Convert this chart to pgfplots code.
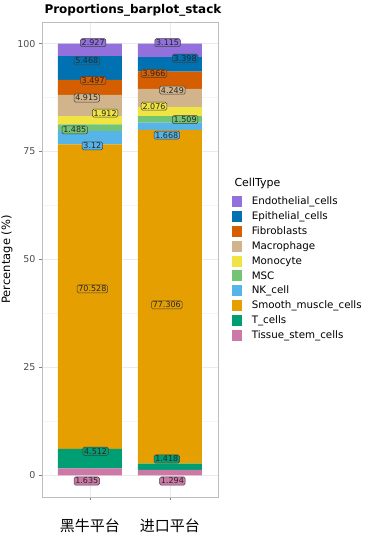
\documentclass[border=0pt]{standalone}
\usepackage{fontspec}
\setmainfont{DejaVu Sans}
\newfontfamily\cjk{Noto Sans CJK SC}
\usepackage{pgfplots}
\pgfplotsset{compat=1.18}
\definecolor{cEndo}{HTML}{9370DB}
\definecolor{cEpi}{HTML}{0072B2}
\definecolor{cFib}{HTML}{D55E00}
\definecolor{cMac}{HTML}{D2B48C}
\definecolor{cMono}{HTML}{F0E442}
\definecolor{cMSC}{HTML}{74C476}
\definecolor{cNK}{HTML}{56B4E9}
\definecolor{cSM}{HTML}{E69F00}
\definecolor{cT}{HTML}{009E73}
\definecolor{cTS}{HTML}{CC79A7}
\definecolor{gridmaj}{HTML}{EBEBEB}
\definecolor{gridmin}{HTML}{F5F5F5}
\definecolor{frame}{HTML}{BDBDBD}
\begin{document}
\begin{tikzpicture}[x=1pt,y=1pt]
\useasboundingbox (0,0) rectangle (375,544);
\pgfplotsset{
  base/.style={
    at={(42pt,47pt)}, anchor=south west,
    scale only axis, width=176pt, height=475pt,
    xmin=0.4, xmax=2.6, ymin=-5, ymax=105,
  },
  lab/.style={nodes near coords, only marks, mark=none,
    point meta=explicit symbolic,
    nodes near coords align={center},
    every node near coord/.append style={anchor=center, fill=#1, draw=black!75, line width=0.5pt,
      rounded corners=1.5pt, inner xsep=1.3pt, inner ysep=1pt, font=\fontsize{8}{8}\selectfont, text=black!85}},
}
\begin{axis}[base,
  ybar stacked, bar width=0.8,
  axis background/.style={fill=white},
  axis line style={frame, line width=0.6pt},
  xtick={1,2}, xticklabels={{\cjk 黑牛平台},{\cjk 进口平台}},
  xticklabel style={font=\fontsize{15}{15}\selectfont, yshift=-15pt},
  ytick={0,25,50,75,100},
  minor ytick={12.5,37.5,62.5,87.5},
  yticklabel style={font=\fontsize{9.5}{10}\selectfont, text=black!70},
  /pgf/number format/assume math mode=true,
  tick style={black!50, line width=0.5pt},
  major tick length=3pt, minor tick length=0pt,
  tick align=outside, xtick pos=bottom, ytick pos=left,
  grid=both,
  major grid style={gridmaj, line width=0.6pt},
  minor grid style={gridmin, line width=0.4pt},
  ylabel={Percentage (\%)},
  ylabel style={font=\fontsize{11.5}{12}\selectfont, yshift=-2pt},
  title={\bfseries Proportions\_barplot\_stack},
  title style={font=\fontsize{12}{12}\selectfont, at={(0,1)}, anchor=south west, xshift=-1pt, yshift=-4pt},
  reverse legend,
  legend style={at={(1.08,0.635)}, anchor=north west, draw=none, fill=none,
    font=\fontsize{10.3}{11}\selectfont, row sep=2.6pt, inner sep=0pt,
    nodes={inner sep=1.5pt}},
  legend cell align=left,
]
\addplot[fill=cTS, draw=none, legend image code/.code={\fill[cTS] (0pt,-5.5pt) rectangle (10pt,5.5pt);}] coordinates {(1,1.635) (2,1.294)};
\addlegendentry{\hspace{8pt}Tissue\_stem\_cells}
\addplot[fill=cT, draw=none, legend image code/.code={\fill[cT] (0pt,-5.5pt) rectangle (10pt,5.5pt);}] coordinates {(1,4.512) (2,1.418)};
\addlegendentry{\hspace{8pt}T\_cells}
\addplot[fill=cSM, draw=none, legend image code/.code={\fill[cSM] (0pt,-5.5pt) rectangle (10pt,5.5pt);}] coordinates {(1,70.528) (2,77.306)};
\addlegendentry{\hspace{8pt}Smooth\_muscle\_cells}
\addplot[fill=cNK, draw=none, legend image code/.code={\fill[cNK] (0pt,-5.5pt) rectangle (10pt,5.5pt);}] coordinates {(1,3.12) (2,1.668)};
\addlegendentry{\hspace{8pt}NK\_cell}
\addplot[fill=cMSC, draw=none, legend image code/.code={\fill[cMSC] (0pt,-5.5pt) rectangle (10pt,5.5pt);}] coordinates {(1,1.485) (2,1.509)};
\addlegendentry{\hspace{8pt}MSC}
\addplot[fill=cMono, draw=none, legend image code/.code={\fill[cMono] (0pt,-5.5pt) rectangle (10pt,5.5pt);}] coordinates {(1,1.912) (2,2.076)};
\addlegendentry{\hspace{8pt}Monocyte}
\addplot[fill=cMac, draw=none, legend image code/.code={\fill[cMac] (0pt,-5.5pt) rectangle (10pt,5.5pt);}] coordinates {(1,4.915) (2,4.249)};
\addlegendentry{\hspace{8pt}Macrophage}
\addplot[fill=cFib, draw=none, legend image code/.code={\fill[cFib] (0pt,-5.5pt) rectangle (10pt,5.5pt);}] coordinates {(1,3.497) (2,3.966)};
\addlegendentry{\hspace{8pt}Fibroblasts}
\addplot[fill=cEpi, draw=none, legend image code/.code={\fill[cEpi] (0pt,-5.5pt) rectangle (10pt,5.5pt);}] coordinates {(1,5.468) (2,3.398)};
\addlegendentry{\hspace{8pt}Epithelial\_cells}
\addplot[fill=cEndo, draw=none, legend image code/.code={\fill[cEndo] (0pt,-5.5pt) rectangle (10pt,5.5pt);}] coordinates {(1,2.927) (2,3.115)};
\addlegendentry{\hspace{8pt}Endothelial\_cells}
\end{axis}
\begin{axis}[base, axis lines=none, xtick=\empty, ytick=\empty, clip=false]
\addplot[lab=cTS] table[meta=l] {x y l
0.96 -1.3 1.635
2.03 -1.3 1.294
};
\addplot[lab=cT] table[meta=l] {x y l
1.07 5.6 4.512
1.96 3.8 1.418
};
\addplot[lab=cSM] table[meta=l] {x y l
1.03 43.2 70.528
1.96 39.5 77.306
};
\addplot[lab=cNK] table[meta=l] {x y l
1.03 76.3 3.12
1.96 78.8 1.668
};
\addplot[lab=cMSC] table[meta=l] {x y l
0.81 80.0 1.485
2.19 82.4 1.509
};
\addplot[lab=cMono] table[meta=l] {x y l
1.19 83.9 1.912
1.80 85.5 2.076
};
\addplot[lab=cMac] table[meta=l] {x y l
0.96 87.4 4.915
2.03 89.2 4.249
};
\addplot[lab=cFib] table[meta=l] {x y l
1.04 91.5 3.497
1.80 93.1 3.966
};
\addplot[lab=cEpi] table[meta=l] {x y l
0.96 96.0 5.468
2.19 96.6 3.398
};
\addplot[lab=cEndo] table[meta=l] {x y l
1.04 100.2 2.927
1.97 100.2 3.115
};
\end{axis}
\node[anchor=west, font=\fontsize{11}{12}\selectfont] at (231,361) {CellType};
\end{tikzpicture}
\end{document}
